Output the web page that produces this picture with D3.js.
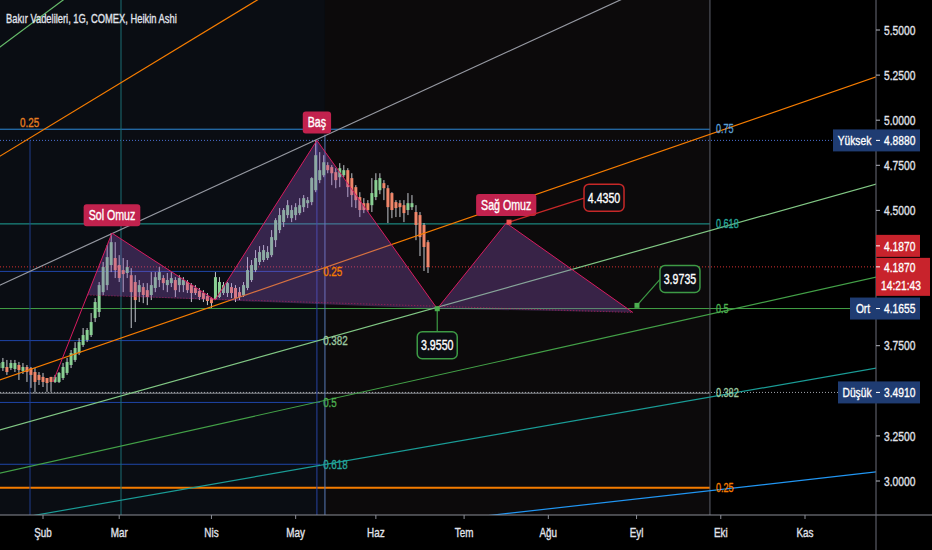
<!DOCTYPE html>
<html>
<head>
<meta charset="utf-8">
<script src="https://cdn.jsdelivr.net/npm/d3@7"></script>
<style>
  body { margin: 0; background: #000; overflow: hidden; }
  svg text { font-family: "Liberation Sans", "Noto Sans", sans-serif; }
</style>
</head>
<body>
<script>
// ---- data (Heikin Ashi daily bars, first bar = 11 bars before 1 Feb) ----
const title = "Bakır Vadelileri, 1G, COMEX, Heikin Ashi";
const firstBar = -11;
const opens = [3.626,3.626,3.632,3.626,3.621,3.643,3.610,3.632,3.626,3.604,3.588,
  3.577,3.571,3.577,3.549,3.549,3.571,3.599,3.643,3.671,3.709,3.754,3.782,3.809,3.903,3.937,4.047,4.086,4.197,
  4.236,4.197,4.169,4.153,4.141,4.103,4.047,4.075,4.058,4.031,4.070,4.114,4.125,4.086,4.097,4.114,4.086,4.086,
  4.103,4.086,4.070,4.053,4.042,4.025,4.014,4.009,4.020,4.042,4.042,4.075,4.070,4.047,4.031,4.070,4.114,4.169,
  4.214,4.225,4.236,4.252,4.335,4.391,4.435,4.474,4.457,4.474,4.485,4.518,4.540,4.546,4.612,4.668,4.695,4.751,
  4.740,4.712,4.684,4.695,4.723,4.679,4.629,4.574,4.540,4.540,4.529,4.574,4.612,4.651,4.623,4.596,4.546,4.540,
  4.529,4.502,4.518,4.491,4.474,4.419,4.324];
const highs = [3.682,3.682,3.671,3.671,3.671,3.660,3.654,3.643,3.632,3.626,3.604,
  3.599,3.571,3.577,3.588,3.604,3.654,3.682,3.726,3.770,3.792,3.848,3.848,3.931,4.014,4.103,4.214,4.308,4.374,
  4.324,4.252,4.236,4.225,4.180,4.141,4.114,4.097,4.097,4.158,4.158,4.186,4.141,4.153,4.158,4.130,4.141,4.130,
  4.114,4.097,4.086,4.070,4.058,4.042,4.020,4.158,4.130,4.103,4.103,4.097,4.086,4.075,4.103,4.241,4.225,4.280,
  4.302,4.308,4.302,4.391,4.457,4.513,4.513,4.557,4.529,4.540,4.568,4.585,4.574,4.684,4.888,4.823,4.806,4.767,
  4.751,4.734,4.762,4.751,4.734,4.706,4.640,4.601,4.568,4.557,4.679,4.706,4.706,4.668,4.640,4.601,4.557,4.557,
  4.557,4.596,4.585,4.529,4.491,4.430,4.335];
const lows = [3.604,3.610,3.588,3.615,3.604,3.560,3.593,3.549,3.516,3.491,3.532,
  3.521,3.494,3.494,3.543,3.543,3.560,3.588,3.626,3.660,3.698,3.743,3.770,3.798,3.881,3.909,4.031,4.058,4.158,
  4.125,4.103,4.047,4.125,3.848,3.881,3.992,3.986,3.975,4.003,4.047,4.075,4.058,4.047,4.075,4.020,4.047,4.047,
  4.042,3.992,4.031,4.003,3.992,3.975,3.959,4.003,4.014,4.031,4.020,4.014,3.992,4.003,4.020,4.058,4.103,4.158,
  4.197,4.214,4.225,4.241,4.297,4.374,4.408,4.457,4.435,4.446,4.474,4.491,4.513,4.529,4.601,4.651,4.684,4.706,
  4.640,4.623,4.629,4.684,4.574,4.518,4.513,4.463,4.485,4.491,4.491,4.557,4.590,4.557,4.430,4.457,4.463,4.463,
  4.435,4.474,4.502,4.335,4.247,4.164,4.153];
const closes = [3.654,3.660,3.604,3.654,3.654,3.615,3.632,3.604,3.588,3.549,3.560,
  3.549,3.543,3.549,3.577,3.599,3.632,3.660,3.709,3.737,3.770,3.809,3.837,3.881,3.992,4.086,4.186,4.241,4.324,
  4.169,4.125,4.147,4.186,4.047,4.003,4.086,4.031,4.020,4.086,4.130,4.158,4.097,4.114,4.125,4.058,4.125,4.114,
  4.058,4.042,4.042,4.020,4.009,3.998,3.986,4.130,4.103,4.086,4.097,4.042,4.014,4.020,4.086,4.169,4.197,4.236,
  4.269,4.280,4.269,4.352,4.446,4.474,4.502,4.529,4.502,4.518,4.529,4.568,4.557,4.679,4.806,4.723,4.767,4.723,
  4.706,4.668,4.734,4.723,4.629,4.585,4.557,4.502,4.502,4.502,4.596,4.668,4.679,4.623,4.518,4.502,4.513,4.518,
  4.485,4.540,4.540,4.419,4.352,4.297,4.186];

const monthNames = ["Şub", "Mar", "Nis", "May", "Haz", "Tem", "Ağu", "Eyl", "Eki", "Kas"];
const monthBars = [0, 19, 42, 63, 83, 105, 126, 148, 169, 190];
// ticks that are not hidden behind the price badges
const priceTicks = [3.0, 3.25, 3.75, 4.5, 4.75, 5.0, 5.25, 5.5];

// big fib retracement (0 -> 1 range) and its levels
const fibLow = 1.968, fibHigh = 5.944, fibEndBar = 166.3;
const fibLevels = [0.75, 0.618, 0.5, 0.382, 0.25];
// small fib measured down from the high
const fib2Top = 4.888, fib2Span = 2.905, fib2EndBar = 69.1;
const fib2Levels = [0.25, 0.382, 0.5, 0.618];

// trend / channel lines: [bar1, price1, bar2, price2]
const trendLines = [
  [-10.72, 3.560, 207.7, 5.240],
  [-10.72, 4.801, 53.4, 5.666],
  [-10.72, 5.406, 5.0, 5.666],
  [-10.72, 4.086, 143.9, 5.666],
  [-10.72, 3.283, 207.7, 4.646],
  [-10.72, 3.044, 207.7, 4.130],
  [-1.75, 2.811, 207.7, 3.626],
  [112.2, 2.811, 207.7, 3.050]
];
const trendColors = ["#f57c00", "#f57c00", "#66bb6a", "#9598a1", "#81c784", "#43a047", "#1a9c96", "#2196f3"];

// vertical lines (bar index)
const vBars = [-3.24, 19.45, 68.3, 70.3, 166.3];

// head & shoulders points
const hsBars = [2.5, 17.2, 42.9, 68.3, 98.3, 115.5, 147.1];
const hsPrices = [3.549, 4.374, 4.003, 4.888, 3.955, 4.430, 3.934];
const hsNames = ["Sol Omuz", "Baş", "Sağ Omuz"];

// price notes
const noteBars = [116.2, 148.1, 98.3];
const notePrices = [4.4350, 3.9735, 3.9550];

const highPrice = 4.888, lowPrice = 3.491, lastPrice = 4.187, midPrice = 4.1655;
const countdown = "14:21:43";

// ---- layout ----
const width = 932, height = 550;
const plotRight = 876, plotBottom = 515;
const x = d3.scaleLinear().domain([0, 190]).range([43, 805]);
const y = d3.scaleLinear().domain([3.0, 5.5]).range([481, 30]);
const fmt = d3.format(".4f");
const SX = 0.76; // the chart font is a narrow one

const svg = d3.select("body").append("svg").attr("width", width).attr("height", height);

// narrow text helper, vertically centred on y
function txt(parent, tx, ty, s, size, fill, anchor, sx) {
  return parent.append("text")
    .attr("transform", `translate(${tx},${ty}) scale(${sx || SX},1)`)
    .attr("dy", "0.35em")
    .attr("text-anchor", anchor || "start")
    .attr("font-size", size)
    .attr("fill", fill)
    .attr("stroke", fill)
    .attr("stroke-width", 0.35)
    .text(s);
}

svg.append("rect").attr("width", width).attr("height", height).attr("fill", "#000");
svg.append("rect").attr("x", 0).attr("y", 0).attr("width", x(vBars[3])).attr("height", plotBottom).attr("fill", "#0a0d13");
svg.append("rect").attr("x", x(vBars[3])).attr("y", 0).attr("width", x(fibEndBar) - x(vBars[3])).attr("height", plotBottom).attr("fill", "#0c0a0b");

svg.append("clipPath").attr("id", "plot").append("rect").attr("width", plotRight).attr("height", plotBottom);
const plot = svg.append("g").attr("clip-path", "url(#plot)");

// fib retracement lines
const fibLineColors = ["#2d8ad8", "#1fa39a", "#43a047", "#8d9096", "#f57c00"];
const fibLabelColors = {0.75: "#5a9fd6", 0.618: "#26a69a", 0.5: "#4caf50", 0.382: "#9cc9a0", 0.25: "#f57c00"};
fibLevels.forEach((lv, k) => {
  const py = y(fibLow + lv * (fibHigh - fibLow));
  plot.append("line").attr("x1", 0).attr("x2", x(fibEndBar)).attr("y1", py).attr("y2", py)
    .attr("stroke", fibLineColors[k]).attr("stroke-width", lv === 0.25 ? 2 : 1);
  txt(svg, x(fibEndBar) + 6, py, lv, 12, fibLabelColors[lv]);
});
fib2Levels.forEach(lv => {
  const py = y(fib2Top - lv * fib2Span);
  plot.append("line").attr("x1", 0).attr("x2", x(fib2EndBar)).attr("y1", py).attr("y2", py)
    .attr("stroke", "#1f45a8").attr("stroke-width", 1);
  txt(svg, x(fib2EndBar) + 3, py, lv, 13, fibLabelColors[lv]);
});
txt(svg, 20, y(fibLow + 0.75 * (fibHigh - fibLow)) - 7, "0.25", 13, "#e67e22");

// the green mid level runs on to the price scale
const midY = y(fibLow + 0.5 * (fibHigh - fibLow));
plot.append("line").attr("x1", x(fibEndBar)).attr("x2", plotRight).attr("y1", midY).attr("y2", midY)
  .attr("stroke", "#43a047");

// dotted high / low / last price lines
[[highPrice, "#4a6fd0"], [lowPrice, "#a0a4ab"], [lastPrice, "#d32f2f"]].forEach(([p, c]) => {
  plot.append("line").attr("x1", 0).attr("x2", plotRight).attr("y1", y(p)).attr("y2", y(p))
    .attr("stroke", c).attr("stroke-dasharray", "1,2");
});

// vertical lines
const vColors = ["#1e3c8c", "#1b6f75", "#2843a0", "#5a7bb8", "#5d606b"];
const vTops = [highPrice, null, highPrice, 4.92, null];
vBars.forEach((b, k) => {
  plot.append("line").attr("x1", x(b)).attr("x2", x(b))
    .attr("y1", vTops[k] ? y(vTops[k]) : 0).attr("y2", plotBottom)
    .attr("stroke", vColors[k]);
});

// candles
const candles = opens.map((o, k) => ({bar: firstBar + k, o, h: highs[k], l: lows[k], c: closes[k]}));
const cg = plot.append("g");
cg.selectAll("line").data(candles).join("line")
  .attr("x1", d => x(d.bar)).attr("x2", d => x(d.bar))
  .attr("y1", d => y(d.h)).attr("y2", d => y(d.l))
  .attr("stroke", "#c3c6cc").attr("stroke-width", 1);
cg.selectAll("rect").data(candles).join("rect")
  .attr("x", d => x(d.bar) - 1.5).attr("width", 3)
  .attr("y", d => y(Math.max(d.o, d.c)))
  .attr("height", d => Math.max(1, Math.abs(y(d.o) - y(d.c))))
  .attr("fill", d => d.c >= d.o ? "#8ad094" : "#f0866a");

// trend lines, extended across the plot
trendLines.forEach((t, k) => {
  const [b1, p1, b2, p2] = t;
  const s = (p2 - p1) / (b2 - b1);
  plot.append("line")
    .attr("x1", x(-20)).attr("y1", y(p1 + s * (-20 - b1)))
    .attr("x2", x(215)).attr("y2", y(p1 + s * (215 - b1)))
    .attr("stroke", trendColors[k]).attr("stroke-width", 1.2);
});

// head & shoulders
const pts = hsBars.map((b, k) => [x(b), y(hsPrices[k])]);
function intersect(a, b, c, d) {
  const s1 = (b[1] - a[1]) / (b[0] - a[0]), s2 = (d[1] - c[1]) / (d[0] - c[0]);
  const xi = (c[1] - a[1] + s1 * a[0] - s2 * c[0]) / (s1 - s2);
  return [xi, a[1] + s1 * (xi - a[0])];
}
const leftFoot = intersect(pts[0], pts[1], pts[2], pts[4]);
const fills = [[leftFoot, pts[1], pts[2]], [pts[2], pts[3], pts[4]], [pts[4], pts[5], pts[6]]];
plot.selectAll("polygon.hs").data(fills).join("polygon").attr("class", "hs")
  .attr("points", d => d.map(p => p.join(",")).join(" "))
  .attr("fill", "rgba(150,90,200,0.32)");
plot.append("path").attr("d", d3.line()([leftFoot, pts[6]]))
  .attr("stroke", "#d81b60").attr("stroke-opacity", 0.7).attr("stroke-dasharray", "1,2").attr("fill", "none");
plot.append("path").attr("d", d3.line()(pts))
  .attr("stroke", "#d81b60").attr("stroke-width", 1).attr("fill", "none");

[1, 3, 5].forEach((pi, k) => {
  const g = svg.append("g");
  const t = txt(g, pts[pi][0], pts[pi][1] - 18, hsNames[k], 14, "#fff", "middle");
  const w = t.node().getComputedTextLength() * SX + 10;
  g.insert("rect", "text").attr("x", pts[pi][0] - w / 2).attr("y", pts[pi][1] - 29)
    .attr("width", w).attr("height", 22).attr("rx", 3).attr("fill", "#c2224e");
});

// price notes with connectors
const noteColors = ["#c62828", "#3d9a45", "#3d9a45"];
const noteBox = [[75, -38], [23, -40], [-20, 23]];
noteBars.forEach((b, k) => {
  const ax = x(b), ay = y(notePrices[k]);
  const bx = ax + noteBox[k][0], by = ay + noteBox[k][1];
  const cx = k === 2 ? ax : bx, cy = k === 2 ? by : by + 14;
  svg.append("line").attr("x1", ax).attr("y1", ay).attr("x2", cx).attr("y2", cy)
    .attr("stroke", noteColors[k]).attr("stroke-width", 1.2);
  svg.append("rect").attr("x", bx).attr("y", by).attr("width", 40).attr("height", 27).attr("rx", 5)
    .attr("fill", "#0b0d12").attr("stroke", noteColors[k]).attr("stroke-width", 1.5);
  txt(svg, bx + 20, by + 13.5, fmt(notePrices[k]), 14, "#fff", "middle");
  svg.append("rect").attr("x", ax - 2.5).attr("y", ay - 2.5).attr("width", 5).attr("height", 5)
    .attr("fill", k === 0 ? "#ef5350" : "#4caf50");
});

// axes
svg.append("line").attr("x1", 0).attr("x2", width).attr("y1", plotBottom).attr("y2", plotBottom).attr("stroke", "#8a8d96");
svg.append("line").attr("x1", plotRight).attr("x2", plotRight).attr("y1", 0).attr("y2", height).attr("stroke", "#6a6d78");

const xAxis = svg.append("g");
monthBars.forEach((b, k) => {
  xAxis.append("line").attr("x1", x(b)).attr("x2", x(b)).attr("y1", plotBottom).attr("y2", plotBottom + 4).attr("stroke", "#8a8d96");
  txt(xAxis, x(b), 532, monthNames[k], 13, "#e0e3eb", "middle");
});

const yAxis = svg.append("g");
priceTicks.forEach(p => {
  yAxis.append("line").attr("x1", plotRight).attr("x2", plotRight + 4).attr("y1", y(p)).attr("y2", y(p)).attr("stroke", "#b2b5be");
  txt(yAxis, plotRight + 8, y(p), fmt(p), 13.5, "#e0e3eb");
});

// price scale badges
function badge(cy, name, value, fill, nameWidth) {
  const g = svg.append("g");
  if (name) {
    g.append("rect").attr("x", plotRight - nameWidth).attr("y", cy - 11).attr("width", nameWidth).attr("height", 22).attr("fill", fill);
    txt(g, plotRight - nameWidth / 2, cy, name, 13.5, "#fff", "middle");
  }
  g.append("rect").attr("x", plotRight).attr("y", cy - 11).attr("width", 44).attr("height", 22).attr("fill", fill);
  g.append("line").attr("x1", plotRight).attr("x2", plotRight + 4).attr("y1", cy).attr("y2", cy).attr("stroke", "#fff");
  txt(g, plotRight + 8, cy, value, 13.5, "#fff");
}
const navy = "#1f3c72", red = "#c8232c";
badge(y(highPrice), "Yüksek", fmt(highPrice), navy, 43);
badge(y(lowPrice), "Düşük", fmt(lowPrice), navy, 38);
badge(midY, "Ort", fmt(midPrice), navy, 26);
badge(y(lastPrice) - 21, null, fmt(lastPrice), red, 0);
svg.append("rect").attr("x", plotRight).attr("y", y(lastPrice) - 9).attr("width", 54).attr("height", 38).attr("fill", red);
svg.append("line").attr("x1", plotRight).attr("x2", plotRight + 4).attr("y1", y(lastPrice)).attr("y2", y(lastPrice)).attr("stroke", "#fff");
txt(svg, plotRight + 8, y(lastPrice), fmt(lastPrice), 13.5, "#fff");
txt(svg, plotRight + 5, y(lastPrice) + 18, countdown, 13.5, "#fff");

// title
txt(svg, 6, 18, title, 13, "#e0e3eb", "start", 0.72);
</script>
</body>
</html>
